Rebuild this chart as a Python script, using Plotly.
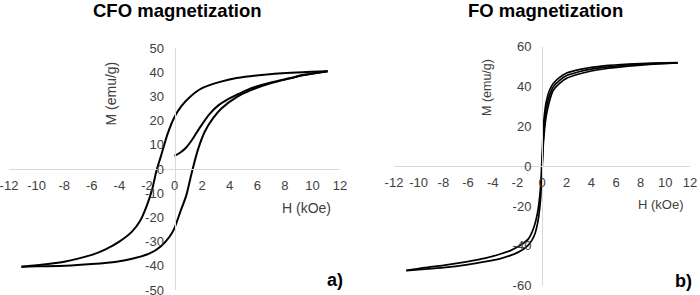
import plotly.graph_objects as go

# ---------------- CFO (left panel) ----------------
cfo_desc_h = [11.1, 9.3, 6.9, 4.5, 3.3, 2.0, 1.1, 0.5, 0.0, -0.5, -1.0, -1.3, -1.6, -2.0, -2.5, -3.1, -4.0, -5.0, -6.0, -8.0, -10.0, -11.1]
cfo_desc_m = [40.4, 40.0, 39.2, 37.6, 36.0, 33.4, 29.7, 26.0, 21.5, 14.5, 5.0, -0.5, -8.0, -15.0, -21.5, -26.0, -30.0, -33.2, -35.5, -38.3, -39.8, -40.4]

cfo_asc_h = [-11.1, -10.0, -7.9, -6.0, -4.2, -3.0, -1.8, -1.0, -0.36, 0.0, 0.4, 0.85, 1.25, 1.7, 2.2, 2.8, 3.4, 4.5, 5.5, 6.9, 8.5, 9.3, 11.1]
cfo_asc_m = [-40.4, -40.2, -40.0, -39.3, -38.3, -37.0, -34.9, -32.0, -28.0, -24.4, -18.0, -11.0, -1.5, 8.0, 15.5, 21.0, 25.0, 29.7, 32.5, 35.3, 37.6, 38.7, 40.4]

cfo_virgin_h = [0.0, 0.4, 0.85, 1.3, 1.8, 2.55, 3.2, 3.8, 4.5, 5.2, 6.0, 7.0, 8.5, 9.3, 11.1]
cfo_virgin_m = [5.4, 6.7, 8.9, 12.3, 16.8, 22.8, 26.4, 28.6, 30.6, 32.5, 34.2, 35.8, 37.7, 38.8, 40.4]

# ---------------- FO (right panel) ----------------
fo_desc_h = [11.0, 9.0, 7.0, 5.0, 4.0, 3.0, 2.0, 1.4, 0.9, 0.6, 0.35, 0.2, 0.1, 0.05, 0.0, -0.05, -0.1, -0.2, -0.35, -0.55, -0.8, -1.1, -1.54, -2.0, -2.6, -3.44, -4.5, -6.15, -8.0, -9.5, -11.0]
fo_desc_m = [52.0, 51.8, 51.3, 50.4, 49.6, 48.5, 46.8, 44.5, 41.4, 38.0, 32.5, 26.0, 18.0, 11.0, 4.0, -3.0, -9.0, -16.0, -23.0, -28.5, -33.0, -36.5, -38.8, -40.6, -42.5, -44.2, -46.0, -48.0, -49.8, -50.9, -52.3]

fo_asc_h = [-11.0, -9.5, -8.0, -6.15, -4.5, -3.44, -2.6, -2.0, -1.54, -1.1, -0.8, -0.55, -0.35, -0.2, -0.1, -0.05, 0.0, 0.05, 0.1, 0.2, 0.35, 0.6, 0.9, 1.4, 2.0, 3.0, 4.0, 5.0, 7.0, 9.0, 11.0]
fo_asc_m = [-52.4, -51.7, -50.9, -49.5, -47.8, -46.5, -44.9, -43.4, -41.8, -39.5, -37.0, -33.5, -28.5, -22.0, -15.0, -9.0, -3.0, 4.0, 10.5, 18.0, 25.5, 32.5, 38.0, 41.5, 44.2, 46.3, 47.8, 48.8, 50.2, 51.2, 51.9]

fo_virgin_h = [0.0, 0.05, 0.1, 0.2, 0.35, 0.6, 0.9, 1.4, 2.0, 3.0, 4.0, 5.0, 7.0, 9.0, 11.0]
fo_virgin_m = [0.0, 6.0, 13.0, 21.0, 29.0, 35.3, 39.7, 43.0, 45.5, 47.4, 48.7, 49.6, 50.8, 51.5, 51.9]

x_ticks = [-12, -10, -8, -6, -4, -2, 0, 2, 4, 6, 8, 10, 12]
cfo_y_ticks = [-50, -40, -30, -20, -10, 0, 10, 20, 30, 40, 50]
fo_y_ticks = [-60, -40, -20, 0, 20, 40, 60]

W, H = 700, 295
FONT = "Liberation Sans, Arial, sans-serif"
TICKCOL = "#404040"
AXCOL = "#d9d9d9"


def px(x):
    return x / W


def py(y):
    return 1 - y / H


fig = go.Figure()
cfo_line = dict(color="black", width=2, shape="spline", smoothing=0.7)
fo_line = dict(color="black", width=1.7, shape="spline", smoothing=0.5)

for hh, mm in [(cfo_desc_h, cfo_desc_m), (cfo_asc_h, cfo_asc_m), (cfo_virgin_h, cfo_virgin_m)]:
    fig.add_trace(go.Scatter(x=hh, y=mm, mode="lines", line=cfo_line, xaxis="x", yaxis="y",
                             showlegend=False, hoverinfo="skip"))
for hh, mm in [(fo_desc_h, fo_desc_m), (fo_asc_h, fo_asc_m), (fo_virgin_h, fo_virgin_m)]:
    fig.add_trace(go.Scatter(x=hh, y=mm, mode="lines", line=fo_line, xaxis="x2", yaxis="y2",
                             showlegend=False, hoverinfo="skip"))

# domains (paper fractions)
lx = [px(9), px(340)]
ly = [py(290), py(48)]
rx = [px(394), px(690)]
ry = [py(285.7), py(46.7)]

tickfont = dict(family=FONT, size=13, color=TICKCOL)
common_x = dict(range=[-12, 12], tickvals=x_ticks, ticktext=[str(v) for v in x_ticks],
                tickangle=0, showgrid=False, zeroline=False, automargin=False,
                showline=True, linecolor=AXCOL, linewidth=1, ticks="", tickfont=tickfont,
                anchor="free", ticklabelstandoff=4, ticklabeloverflow="allow", fixedrange=True)
common_y = dict(showgrid=False, zeroline=False, showline=True, linecolor=AXCOL, linewidth=1,
                automargin=False, ticks="", tickfont=tickfont, anchor="free",
                ticklabelstandoff=8, ticklabeloverflow="allow", fixedrange=True)

fig.update_layout(
    template="none",
    width=W, height=H,
    margin=dict(l=0, r=0, t=0, b=0, pad=0),
    paper_bgcolor="white", plot_bgcolor="rgba(0,0,0,0)",
    xaxis=dict(domain=lx, position=(ly[0] + ly[1]) / 2, **common_x),
    yaxis=dict(domain=ly, range=[-50, 50], tickvals=cfo_y_ticks,
               ticktext=[str(v) for v in cfo_y_ticks],
               position=(lx[0] + lx[1]) / 2, **common_y),
    xaxis2=dict(domain=rx, position=(ry[0] + ry[1]) / 2, **common_x),
    yaxis2=dict(domain=ry, range=[-60, 60], tickvals=fo_y_ticks,
                ticktext=[str(v) for v in fo_y_ticks],
                position=(rx[0] + rx[1]) / 2, **common_y),
)

ann = [
    dict(text="<b>CFO magnetization</b>", x=px(177.5), y=py(10), size=18.5, color="black", angle=0),
    dict(text="<b>FO magnetization</b>", x=px(545.5), y=py(10), size=18.5, color="black", angle=0),
    dict(text="M (emu/g)", x=px(110), y=py(93.5), size=14, color=TICKCOL, angle=-90),
    dict(text="H (kOe)", x=px(306), y=py(207.5), size=14, color=TICKCOL, angle=0),
    dict(text="M (emu/g)", x=px(486.5), y=py(87.5), size=12.5, color=TICKCOL, angle=-90),
    dict(text="H (kOe)", x=px(660.5), y=py(204), size=13, color=TICKCOL, angle=0),
    dict(text="<b>a)</b>", x=px(334.5), y=py(280), size=18, color="black", angle=0),
    dict(text="<b>b)</b>", x=px(683.5), y=py(280.5), size=18, color="black", angle=0),
]
for a in ann:
    fig.add_annotation(text=a["text"], x=a["x"], y=a["y"], xref="paper", yref="paper",
                       xanchor="center", yanchor="middle", showarrow=False,
                       textangle=a["angle"], font=dict(family=FONT, size=a["size"], color=a["color"]))

fig.write_html("out.html", config={"displayModeBar": False},
               post_script="document.body.style.margin='0';document.body.style.overflow='hidden';")
